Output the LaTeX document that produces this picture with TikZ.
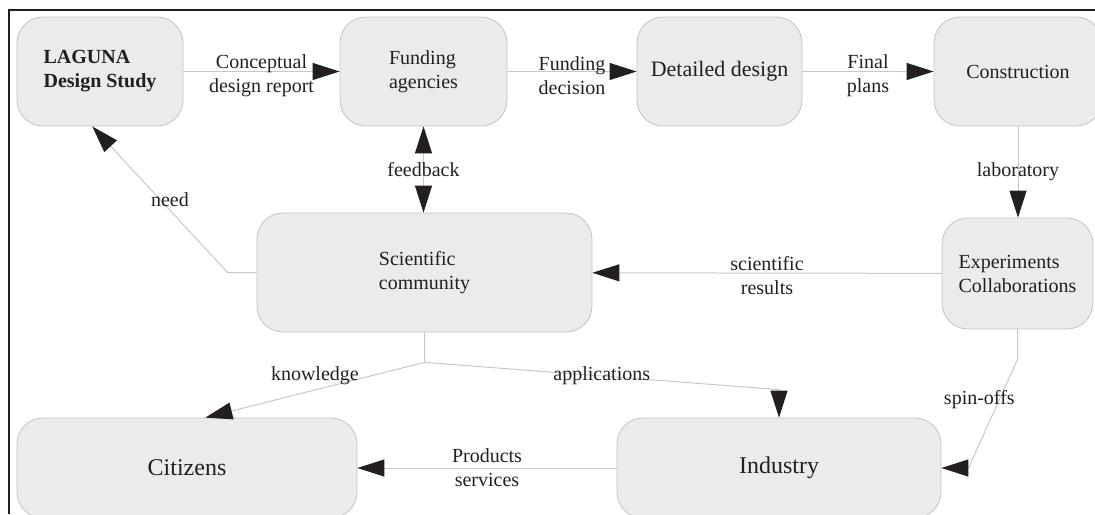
\documentclass[tikz,border=0pt]{standalone}
\usepackage{fontspec}
\setmainfont{Liberation Serif}
\usetikzlibrary{arrows.meta}
\definecolor{boxfill}{HTML}{EBEBEB}
\definecolor{boxline}{HTML}{C4C4C4}
\definecolor{wire}{HTML}{C8C8C8}
\definecolor{ink}{HTML}{231F20}

\begin{document}
\begin{tikzpicture}[x=0.5pt, y=-0.5pt, text=ink,
        box/.style = {draw=boxline, fill=boxfill, rounded corners=13pt, align=left,
                      inner sep=0pt, minimum height=54.5pt},
        head/.tip = {Triangle[length=13.5pt, width=8.5pt, color=ink]},
        link/.style = {draw=wire, line width=0.5pt, -head},
        lbl/.style = {align=center}]
    \clip (0,0) rectangle (1095,514);
    \useasboundingbox (0,0) rectangle (1095,514);
    \draw[ink, line width=1pt] (9,514) -- (9,10) -- (1095,10);

    \node[box, minimum width=83pt, font=\bfseries] (lag) at (100,71.5) {LAGUNA\\Design Study};
    \node[box, minimum width=83.5pt] (fund) at (423.5,71.5) {Funding\\agencies};
    \node[box, minimum width=82.5pt, font=\fontsize{11}{13}\selectfont] (det) at (719.5,71.5) {Detailed design};
    \node[box, minimum width=84pt] (con) at (1018,71.5) {Construction};
    \node[box, minimum width=75.5pt, minimum height=55.5pt] (exp) at (1017.5,273.5) {Experiments\\Collaborations};
    \node[box, minimum width=167.5pt, minimum height=59.5pt] (sci) at (424.5,272.5) {Scientific\\community};
    \node[box, minimum width=170pt, minimum height=50pt, font=\fontsize{12}{14}\selectfont] (cit) at (187,468) {Citizens};
    \node[box, minimum width=162pt, minimum height=50pt, font=\fontsize{12}{14}\selectfont] (ind) at (779,468) {Industry};

    \draw[link] (lag) -- node[lbl, yshift=-2pt] {Conceptual\\design report} (fund);
    \draw[link] (fund) -- node[lbl, yshift=-2pt] {Funding\\decision} (det);
    \draw[link] (det) -- node[lbl, yshift=-2pt] {Final\\plans} (con);
    \draw[link] (con.south) -- node[lbl] {laboratory} (con.south |- exp.north);
    \draw[link, head-head] (fund.south) -- node[lbl] {feedback} (fund.south |- sci.north);
    \draw[link] (exp) -- node[lbl, yshift=-1pt] {scientific\\results} (sci);
    \draw[link] (sci.west) -- ++(-29,0) -- node[lbl, pos=.5, xshift=5pt] {need} (lag.-98);
    \draw[link] (sci.south) -- ++(0,30) coordinate (fork) -- node[lbl, above=-1pt] {knowledge} (cit.70);
    \draw[link] (fork) -- node[lbl] {applications} ([yshift=14pt]ind.north) -- (ind.north);
    \draw[link] (exp.south) -- ++(0,30) -- node[lbl, pos=.37, xshift=-10pt] {spin-offs} ([xshift=13.5pt]ind.east) -- (ind.east);
    \draw[link] (ind) -- node[lbl] {Products\\services} (cit);
\end{tikzpicture}
\end{document}
